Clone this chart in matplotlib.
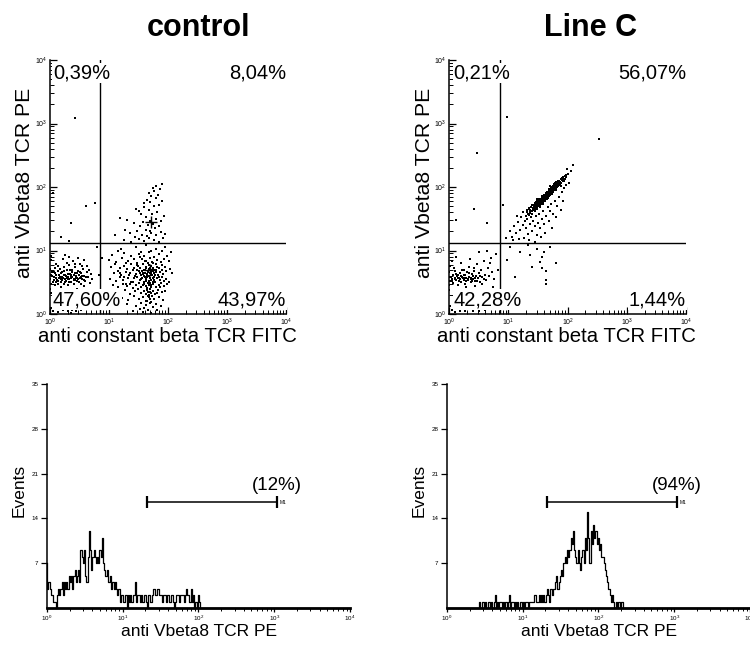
import numpy as np
import matplotlib
matplotlib.use('Agg')
import matplotlib.pyplot as plt
from matplotlib.ticker import LogLocator, NullFormatter, FixedLocator

plt.rcParams['font.family'] = ['Liberation Sans', 'DejaVu Sans']

W, H = 750, 645

titles = ['control', 'Line C']
ctrl_quads = ['0,39%', '8,04%', '47,60%', '43,97%']
linec_quads = ['0,21%', '56,07%', '42,28%', '1,44%']
gate_x = [7.1, 7.2]
gate_y = 13.2
m1_pcts = ['(12%)', '(94%)']
m1_range = [21, 1100]
m1_level = 16.5

# events as (log10 FITC, log10 PE)
ctrl_dn = [
    (0.15, 0.56), (0.19, 0.55), (0.22, 0.56), (0.26, 0.55), (0.29, 0.56), (0.33, 0.55), (0.36, 0.56),
    (0.40, 0.55), (0.44, 0.56), (0.47, 0.55), (0.51, 0.56),
    (0.02, 0.48), (0.01, 0.62), (0.00, 0.71), (0.01, 0.85), (0.00, 0.40), (0.02, 0.33), (0.00, 0.55), (0.01, 0.92),
    (0.05, 0.50), (0.07, 0.58), (0.06, 0.66), (0.09, 0.45), (0.10, 0.61), (0.08, 0.72), (0.12, 0.53), (0.13, 0.68),
    (0.14, 0.47), (0.11, 0.78), (0.16, 0.62), (0.18, 0.50), (0.17, 0.71), (0.20, 0.58), (0.21, 0.66), (0.23, 0.48),
    (0.24, 0.74), (0.25, 0.61), (0.27, 0.52), (0.28, 0.69), (0.30, 0.58), (0.31, 0.45), (0.32, 0.77), (0.34, 0.63),
    (0.35, 0.51), (0.37, 0.70), (0.38, 0.59), (0.39, 0.83), (0.41, 0.48), (0.42, 0.65), (0.43, 0.74), (0.45, 0.57),
    (0.46, 0.52), (0.48, 0.68), (0.49, 0.61), (0.50, 0.79), (0.52, 0.47), (0.53, 0.64), (0.55, 0.55), (0.56, 0.71),
    (0.58, 0.60), (0.60, 0.52), (0.62, 0.66), (0.65, 0.58), (0.68, 0.49), (0.47, 0.88), (0.33, 0.90), (0.22, 0.86),
    (0.57, 0.85), (0.26, 0.93), (0.04, 0.60), (0.15, 0.57), (0.44, 0.60), (0.36, 0.62), (0.27, 0.60), (0.10, 0.50),
    (0.40, 0.54), (0.52, 0.58), (0.19, 0.64), (0.31, 0.55), (0.63, 0.75), (0.70, 0.63), (0.08, 0.38), (0.18, 0.42),
    (0.45, 0.40), (0.58, 0.44), (0.83, 0.62), (0.88, 0.88),
    (0.06, 0.54), (0.11, 0.57), (0.14, 0.52), (0.17, 0.59), (0.20, 0.53), (0.23, 0.62), (0.25, 0.51), (0.28, 0.57),
    (0.30, 0.63), (0.32, 0.50), (0.35, 0.58), (0.38, 0.66), (0.41, 0.61), (0.43, 0.53), (0.46, 0.64), (0.49, 0.50),
    (0.51, 0.66), (0.54, 0.60), (0.57, 0.53), (0.61, 0.58), (0.03, 0.66), (0.09, 0.64), (0.24, 0.68), (0.34, 0.70),
    (0.13, 0.75), (0.29, 0.80), (0.42, 0.78), (0.54, 0.76), (0.66, 0.70), (0.72, 0.55),
    (0.05, 0.05), (0.10, 0.08), (0.14, 0.03), (0.18, 0.10), (0.22, 0.06), (0.26, 0.12), (0.30, 0.04), (0.33, 0.09),
    (0.37, 0.07), (0.41, 0.11), (0.44, 0.05), (0.48, 0.09), (0.02, 0.10), (0.08, 0.14), (0.28, 0.15), (0.35, 0.02),
    (0.52, 0.06),
]
ctrl_fitc = [
    (1.20, 1.02), (1.45, 1.05), (1.62, 1.08), (1.80, 1.03), (1.95, 1.06), (1.55, 0.98), (1.72, 1.00),
    (1.05, 0.93), (1.25, 0.96), (1.38, 0.91), (1.50, 0.95), (1.60, 0.92), (1.68, 0.97), (1.76, 0.90), (1.85, 0.94),
    (1.98, 0.92), (2.05, 0.97), (1.15, 0.99), (1.90, 0.99),
    (1.00, 0.85), (1.12, 0.82), (1.22, 0.88), (1.33, 0.84), (1.42, 0.87), (1.48, 0.81), (1.56, 0.86), (1.63, 0.83),
    (1.70, 0.88), (1.74, 0.81), (1.81, 0.85), (1.88, 0.82), (1.94, 0.87), (2.02, 0.84), (1.28, 0.80), (1.66, 0.80),
    (1.52, 0.89),
    (1.03, 0.74), (1.10, 0.78), (1.18, 0.72), (1.26, 0.76), (1.31, 0.71), (1.37, 0.79), (1.43, 0.73), (1.47, 0.77),
    (1.53, 0.72), (1.58, 0.78), (1.62, 0.74), (1.67, 0.71), (1.71, 0.76), (1.75, 0.73), (1.79, 0.79), (1.84, 0.72),
    (1.89, 0.77), (1.95, 0.74), (2.03, 0.71), (1.60, 0.70), (1.73, 0.70), (1.49, 0.75),
    (1.08, 0.64), (1.15, 0.68), (1.21, 0.62), (1.29, 0.66), (1.34, 0.61), (1.40, 0.69), (1.45, 0.63), (1.50, 0.67),
    (1.54, 0.61), (1.57, 0.65), (1.61, 0.69), (1.64, 0.62), (1.66, 0.66), (1.69, 0.64), (1.71, 0.68), (1.73, 0.61),
    (1.77, 0.65), (1.80, 0.69), (1.83, 0.62), (1.87, 0.66), (1.92, 0.63), (1.97, 0.68), (2.06, 0.64), (1.58, 0.63),
    (1.68, 0.60), (1.75, 0.67),
    (1.02, 0.55), (1.12, 0.52), (1.19, 0.58), (1.24, 0.53), (1.32, 0.57), (1.38, 0.51), (1.43, 0.56), (1.47, 0.59),
    (1.52, 0.53), (1.56, 0.57), (1.59, 0.51), (1.63, 0.55), (1.65, 0.59), (1.68, 0.52), (1.70, 0.57), (1.72, 0.54),
    (1.76, 0.58), (1.78, 0.51), (1.82, 0.56), (1.86, 0.53), (1.90, 0.58), (1.96, 0.55), (2.01, 0.51), (1.61, 0.58),
    (1.74, 0.50),
    (1.06, 0.45), (1.16, 0.42), (1.23, 0.48), (1.30, 0.44), (1.36, 0.47), (1.41, 0.41), (1.46, 0.46), (1.51, 0.49),
    (1.55, 0.43), (1.60, 0.47), (1.64, 0.41), (1.67, 0.45), (1.69, 0.49), (1.72, 0.43), (1.75, 0.47), (1.79, 0.42),
    (1.84, 0.46), (1.88, 0.49), (1.93, 0.44), (1.99, 0.47), (1.62, 0.44), (1.70, 0.40),
    (1.14, 0.35), (1.27, 0.38), (1.35, 0.32), (1.44, 0.36), (1.49, 0.39), (1.54, 0.33), (1.59, 0.37), (1.63, 0.31),
    (1.66, 0.35), (1.69, 0.39), (1.71, 0.33), (1.74, 0.36), (1.78, 0.31), (1.83, 0.38), (1.89, 0.34), (1.95, 0.37),
    (1.68, 0.30),
    (1.22, 0.25), (1.33, 0.22), (1.42, 0.28), (1.50, 0.24), (1.57, 0.27), (1.62, 0.21), (1.67, 0.26), (1.70, 0.23),
    (1.73, 0.29), (1.77, 0.24), (1.85, 0.27), (1.92, 0.22), (1.65, 0.20),
    (1.30, 0.15), (1.45, 0.12), (1.55, 0.18), (1.63, 0.14), (1.69, 0.17), (1.74, 0.11), (1.80, 0.16), (1.88, 0.13),
    (1.60, 0.10), (1.40, 0.05), (1.58, 0.03), (1.66, 0.07), (1.72, 0.02), (1.82, 0.06), (1.52, 0.08),
    (1.56, 0.68), (1.59, 0.60), (1.61, 0.64), (1.63, 0.72), (1.65, 0.63), (1.67, 0.69), (1.69, 0.57), (1.70, 0.73),
    (1.72, 0.65), (1.74, 0.56), (1.76, 0.70), (1.78, 0.61), (1.80, 0.66), (1.62, 0.52), (1.66, 0.49), (1.71, 0.46),
    (1.68, 0.77), (1.73, 0.82), (1.58, 0.45), (1.64, 0.38), (1.70, 0.35), (1.66, 0.28), (1.72, 0.19), (1.61, 0.84),
    (1.77, 0.53), (1.81, 0.74), (1.54, 0.55), (1.52, 0.64), (1.85, 0.59), (1.48, 0.70), (1.44, 0.60), (1.40, 0.50),
    (1.36, 0.65), (1.90, 0.70), (1.93, 0.52), (1.87, 0.42), (1.25, 0.58), (1.18, 0.65), (1.28, 0.47), (1.82, 0.33),
]
ctrl_dp = [
    (1.25, 1.16), (1.38, 1.14), (1.50, 1.18), (1.60, 1.15), (1.68, 1.20), (1.76, 1.17), (1.85, 1.14), (1.92, 1.19),
    (1.44, 1.22), (1.56, 1.25), (1.65, 1.23), (1.72, 1.27), (1.80, 1.24), (1.88, 1.29), (1.35, 1.28), (1.48, 1.31),
    (1.62, 1.33), (1.70, 1.30), (1.78, 1.35), (1.95, 1.26), (1.52, 1.38), (1.66, 1.40), (1.74, 1.42), (1.84, 1.39),
    (1.58, 1.45), (1.70, 1.47), (1.79, 1.50), (1.88, 1.46), (1.42, 1.43), (1.63, 1.52), (1.55, 1.57), (1.73, 1.58),
    (1.82, 1.61), (1.67, 1.63), (1.60, 1.68), (1.76, 1.70), (1.85, 1.72), (1.70, 1.76), (1.64, 1.80), (1.79, 1.82),
    (1.72, 1.86), (1.83, 1.88), (1.77, 1.93), (1.68, 1.91), (1.86, 1.97), (1.80, 2.02), (1.74, 1.98), (1.90, 2.04),
    (1.50, 1.62), (1.93, 1.55), (1.30, 1.48), (1.46, 1.66), (1.59, 1.75), (1.89, 1.78),
]
ctrl_stray = [
    (0.42, 3.08), (0.05, 1.90), (0.61, 1.70), (0.76, 1.75), (0.35, 1.43), (0.19, 1.21), (0.33, 1.15),
    (1.19, 1.51), (1.27, 1.32), (1.10, 1.24), (0.80, 1.05),
]
ctrl_centres = [(1.69, 0.69), (1.72, 1.45)]

linec_dn = [
    (0.00, 0.45), (0.01, 0.58), (0.00, 0.66), (0.02, 0.52), (0.01, 0.75), (0.00, 0.38),
    (0.04, 0.55), (0.06, 0.62), (0.07, 0.49), (0.09, 0.57), (0.10, 0.68), (0.12, 0.53), (0.13, 0.60), (0.15, 0.46),
    (0.16, 0.56), (0.18, 0.64), (0.19, 0.51), (0.21, 0.58), (0.22, 0.70), (0.24, 0.54), (0.25, 0.61), (0.27, 0.48),
    (0.28, 0.56), (0.30, 0.66), (0.31, 0.53), (0.33, 0.59), (0.34, 0.74), (0.36, 0.50), (0.37, 0.57), (0.39, 0.63),
    (0.40, 0.55), (0.42, 0.68), (0.43, 0.52), (0.45, 0.60), (0.47, 0.78), (0.48, 0.56), (0.50, 0.64), (0.52, 0.51),
    (0.54, 0.70), (0.56, 0.58), (0.58, 0.84), (0.60, 0.62), (0.62, 0.53), (0.65, 0.73), (0.67, 0.60), (0.70, 0.88),
    (0.73, 0.66), (0.76, 0.55), (0.79, 0.95), (0.82, 0.70), (0.20, 0.80), (0.35, 0.86), (0.12, 0.90), (0.50, 0.97),
    (0.28, 0.42), (0.44, 0.44), (0.08, 0.72), (0.26, 0.56), (0.32, 0.55), (0.18, 0.55), (0.38, 0.52), (0.14, 0.62),
    (0.55, 0.47), (0.64, 1.00), (0.74, 0.42), (0.05, 0.83),
    (0.05, 0.52), (0.10, 0.55), (0.14, 0.57), (0.17, 0.52), (0.20, 0.60), (0.23, 0.56), (0.26, 0.62), (0.29, 0.52),
    (0.33, 0.64), (0.36, 0.55), (0.40, 0.60), (0.44, 0.57), (0.47, 0.52), (0.52, 0.60), (0.58, 0.55), (0.11, 0.63),
    (0.24, 0.70), (0.41, 0.72), (0.68, 0.80), (0.03, 0.58),
    (0.04, 0.06), (0.09, 0.03), (0.13, 0.09), (0.18, 0.05), (0.22, 0.11), (0.27, 0.04), (0.31, 0.08), (0.36, 0.12),
    (0.40, 0.05), (0.45, 0.09), (0.50, 0.04), (0.56, 0.10), (0.61, 0.07), (0.02, 0.12),
]
linec_dp = [
    (1.30, 1.55), (1.31, 1.63), (1.33, 1.58), (1.34, 1.66), (1.35, 1.56), (1.36, 1.64), (1.37, 1.60), (1.38, 1.69),
    (1.39, 1.62), (1.40, 1.58), (1.41, 1.67), (1.42, 1.72), (1.43, 1.64), (1.44, 1.70), (1.45, 1.75), (1.45, 1.66),
    (1.46, 1.69), (1.47, 1.74), (1.48, 1.70), (1.48, 1.78), (1.49, 1.68), (1.50, 1.73), (1.50, 1.79), (1.51, 1.71),
    (1.52, 1.76), (1.52, 1.81), (1.53, 1.74), (1.54, 1.70), (1.54, 1.79), (1.55, 1.76), (1.56, 1.83), (1.56, 1.77),
    (1.57, 1.80), (1.58, 1.75), (1.58, 1.85), (1.59, 1.79), (1.60, 1.82), (1.60, 1.88), (1.61, 1.80), (1.62, 1.86),
    (1.63, 1.83), (1.63, 1.90), (1.64, 1.85), (1.65, 1.81), (1.65, 1.92), (1.66, 1.87), (1.67, 1.90), (1.68, 1.86),
    (1.68, 1.94), (1.69, 1.89), (1.70, 1.92), (1.70, 1.97), (1.71, 1.88), (1.72, 1.94), (1.72, 1.99), (1.73, 1.92),
    (1.74, 1.97), (1.75, 1.93), (1.75, 2.01), (1.76, 1.96), (1.77, 1.99), (1.77, 2.04), (1.78, 1.95), (1.79, 2.01),
    (1.79, 2.06), (1.80, 1.98), (1.81, 2.03), (1.82, 2.00), (1.82, 2.07), (1.83, 2.04), (1.84, 2.01), (1.84, 2.09),
    (1.85, 2.05), (1.86, 2.10), (1.86, 2.03), (1.87, 2.08), (1.88, 2.12), (1.89, 2.06), (1.90, 2.11), (1.91, 2.14),
    (1.92, 2.09), (1.93, 2.13), (1.95, 2.17), (1.96, 2.12), (1.98, 2.16), (2.00, 2.20), (1.62, 1.78), (1.57, 1.86),
    (1.46, 1.77), (1.40, 1.71), (1.74, 1.89), (1.80, 2.08), (1.67, 1.83), (1.53, 1.68), (1.35, 1.67), (1.44, 1.62),
    (1.88, 2.02), (1.71, 2.02), (1.59, 1.73), (1.49, 1.81),
    (1.42, 1.66), (1.44, 1.74), (1.46, 1.73), (1.47, 1.68), (1.49, 1.76), (1.50, 1.70), (1.51, 1.77), (1.53, 1.79),
    (1.55, 1.73), (1.55, 1.81), (1.57, 1.76), (1.59, 1.83), (1.61, 1.84), (1.64, 1.89), (1.66, 1.84), (1.69, 1.93),
    (1.71, 1.91), (1.73, 1.96), (1.76, 1.99), (1.78, 2.02), (1.79, 1.97), (1.81, 2.05), (1.83, 2.01), (1.85, 2.08),
    (1.87, 2.05), (1.76, 1.92), (1.73, 2.00), (1.80, 1.95), (1.83, 2.08), (1.78, 2.07), (1.68, 1.97), (1.62, 1.81),
    (1.58, 1.78), (1.52, 1.73), (1.48, 1.66), (1.38, 1.62), (1.36, 1.59), (1.32, 1.61), (1.89, 2.13), (1.92, 2.15),
    (1.94, 2.10), (1.97, 2.19), (1.75, 1.96), (1.70, 1.89), (1.65, 1.87), (1.61, 1.87), (1.56, 1.79), (1.51, 1.75),
    (1.47, 1.71), (1.43, 1.69),
    (1.02, 1.30), (1.06, 1.22), (1.10, 1.38), (1.13, 1.27), (1.16, 1.45), (1.19, 1.33), (1.21, 1.52), (1.24, 1.40),
    (1.26, 1.20), (1.28, 1.47), (1.30, 1.35), (1.32, 1.50), (1.33, 1.26), (1.36, 1.42), (1.38, 1.53), (1.40, 1.31),
    (1.42, 1.46), (1.44, 1.38), (1.46, 1.55), (1.48, 1.24), (1.50, 1.44), (1.52, 1.58), (1.54, 1.35), (1.56, 1.50),
    (1.58, 1.62), (1.60, 1.42), (1.62, 1.28), (1.64, 1.55), (1.66, 1.68), (1.68, 1.47), (1.70, 1.62), (1.72, 1.74),
    (1.74, 1.36), (1.76, 1.58), (1.78, 1.78), (1.80, 1.52), (1.82, 1.70), (1.85, 1.85), (1.88, 1.64), (1.91, 1.92),
    (1.94, 1.98), (1.97, 2.03), (0.95, 1.19), (1.08, 1.16), (1.18, 1.18), (1.34, 1.17), (1.45, 1.14), (1.25, 1.60),
    (1.15, 1.55), (1.55, 1.21), (1.92, 1.78), (2.02, 2.07), (2.05, 2.25), (1.99, 2.28),
]
linec_fitc = [
    (1.33, 1.08), (1.36, 0.93), (1.39, 0.74), (1.53, 0.82), (1.56, 0.72), (1.64, 0.67), (1.64, 0.48), (1.81, 0.80),
    (1.11, 0.59), (1.03, 1.06), (1.56, 0.90), (1.64, 0.53), (1.48, 1.02), (1.20, 0.98), (1.70, 1.05), (1.60, 0.98),
    (0.98, 0.85),
]
linec_stray = [
    (2.09, 2.34), (2.53, 2.76), (0.98, 3.11), (0.46, 2.53), (0.41, 1.65), (0.11, 1.48), (0.63, 1.44), (0.90, 1.71),
]

# PE histograms, counts per channel (64 channels per decade)
ctrl_counts = [
    7, 3, 4, 3, 2, 2, 1, 1, 0, 2, 3, 2, 3, 4, 2, 4, 3,
    4, 3, 5, 4, 5, 3, 5, 6, 4, 5, 6, 4,
    9, 8, 7, 9, 5, 4, 8, 12, 9,
    6, 8, 9, 8, 7, 8, 7, 9, 8, 11,
    7, 6, 5, 6, 4, 4, 5, 3, 4, 3, 4, 3, 2, 3,
    1, 2, 2, 1, 1, 2, 0, 2, 1, 2, 1, 2, 2, 4,
    1, 2, 2, 1, 2, 1, 1, 2, 1, 0, 2, 2, 1, 2, 3, 3, 2, 2, 3, 2,
    2, 2, 1, 2, 2, 1, 2, 2, 1, 2, 2, 1, 0,
    1, 2, 2, 1, 2, 2, 2, 1, 2, 3, 2, 2, 1, 3, 1, 2, 0,
    1, 0, 2, 1, 0, 0,
]
linec_counts = [0] * 28 + [
    1, 0, 1, 1, 0, 1, 0, 1, 1, 0, 1, 0, 1, 2, 0, 1, 0, 1, 1, 0,
    1, 0, 1, 0, 1, 2, 0, 1, 1, 0, 1, 0, 1, 0, 1, 1, 0, 1, 0, 1, 1, 0,
    1, 1, 1, 1, 2, 2, 1, 1, 2, 1, 2, 1, 2,
    1, 2, 3, 2, 1, 3, 2, 3,
    3, 4, 5, 3, 4, 5,
    6, 5, 7, 8, 7, 9, 8,
    9, 11, 10, 12,
    9, 8, 7, 9, 7, 6,
    8, 9, 7, 11, 9,
    15, 11, 7,
    12, 10, 13, 11, 12,
    10, 11, 9, 10, 8, 8,
    7, 6, 5, 4, 3,
    2, 1, 2, 1,
    0, 1, 0, 1, 1, 0, 1, 0, 0,
]


def px_box(x0, y0, x1, y1):
    return [x0 / W, 1 - y1 / H, (x1 - x0) / W, (y1 - y0) / H]


def fig_text(fig, x, y, s, **kw):
    fig.text(x / W, 1 - y / H, s, **kw)


def log_x(ax):
    ax.set_xscale('log')
    ax.xaxis.set_major_locator(LogLocator(base=10, numticks=10))
    ax.xaxis.set_minor_locator(LogLocator(base=10, subs=range(2, 10), numticks=50))
    ax.xaxis.set_minor_formatter(NullFormatter())
    ax.set_xlim(1, 1e4)
    for side in ['top', 'right']:
        ax.spines[side].set_visible(False)
    ax.spines['left'].set_linewidth(1.1)
    ax.spines['bottom'].set_linewidth(1.1)


def dot_plot(ax, groups, centres, gx, quads, lx):
    for pts in groups:
        arr = np.array(pts)
        ax.scatter(10 ** arr[:, 0], 10 ** arr[:, 1], s=2.0, marker='s', c='k', linewidths=0, zorder=2)
    if centres:
        arr = np.array(centres)
        ax.plot(10 ** arr[:, 0], 10 ** arr[:, 1], '+', color='k', ms=8, mew=1, zorder=2)
    ax.axvline(gx, color='k', lw=1, zorder=1)
    ax.axhline(gate_y, color='k', lw=1, zorder=1)
    log_x(ax)
    ax.set_yscale('log')
    ax.yaxis.set_major_locator(LogLocator(base=10, numticks=10))
    ax.yaxis.set_minor_locator(LogLocator(base=10, subs=range(2, 10), numticks=50))
    ax.yaxis.set_minor_formatter(NullFormatter())
    ax.set_ylim(1, 1e4)
    ax.tick_params(which='major', direction='in', length=5, width=0.9, labelsize=5, pad=2)
    ax.tick_params(which='minor', direction='in', length=3, width=0.7)
    box = dict(facecolor='white', edgecolor='none', pad=0.6)
    kw = dict(fontsize=14.5, va='baseline', bbox=box, zorder=4)
    ax.text(10 ** lx, 10 ** 3.71, quads[0], ha='left', **kw)
    ax.text(1e4, 10 ** 3.71, quads[1], ha='right', **kw)
    ax.text(10 ** lx, 10 ** 0.14, quads[2], ha='left', **kw)
    ax.text(1e4, 10 ** 0.14, quads[3], ha='right', **kw)


def pe_hist(ax, counts, pct):
    chans = 10 ** (np.arange(256) / 64)
    full = counts + [0] * (256 - len(counts))
    ax.step(chans, full, where='mid', color='k', lw=0.9, clip_on=False)
    log_x(ax)
    ax.spines['bottom'].set_linewidth(2)
    ax.set_ylim(0, 35)
    ax.yaxis.set_major_locator(FixedLocator([7, 14, 21, 28, 35]))
    ax.tick_params(axis='x', which='major', direction='out', length=3, width=0.9, labelsize=4.5, pad=1)
    ax.tick_params(axis='x', which='minor', direction='out', length=2, width=0.7)
    ax.tick_params(axis='y', which='major', direction='out', length=4, width=0.9, labelsize=4.5, pad=2)
    ax.plot(m1_range, [m1_level, m1_level], color='k', lw=1.1, marker='|', ms=8, mew=1.6)
    ax.text(10 ** 3.37, 19.2, pct, ha='right', va='center', fontsize=13.5)
    ax.text(1180, 16.5, 'M1', fontsize=3.5, va='center', ha='left')


fig = plt.figure(figsize=(W / 100, H / 100), dpi=100)

ax1 = fig.add_axes(px_box(50, 60, 286, 314))
dot_plot(ax1, [ctrl_dn, ctrl_fitc, ctrl_dp, ctrl_stray], ctrl_centres, gate_x[0], ctrl_quads, 0.05)
ax2 = fig.add_axes(px_box(449.3, 60, 686, 314))
dot_plot(ax2, [linec_dn, linec_dp, linec_fitc, linec_stray], [], gate_x[1], linec_quads, 0.07)

ax3 = fig.add_axes(px_box(46.7, 384, 350, 608))
pe_hist(ax3, ctrl_counts, m1_pcts[0])
ax4 = fig.add_axes(px_box(446.7, 384, 750, 608))
pe_hist(ax4, linec_counts, m1_pcts[1])

fig_text(fig, 199, 28, titles[0], fontsize=22, fontweight='bold', ha='center', va='center')
fig_text(fig, 591, 28, titles[1], fontsize=22, fontweight='bold', ha='center', va='center')

for dx in [0, 399.3]:
    fig_text(fig, 167 + dx, 337, 'anti constant beta TCR FITC', fontsize=14.7, ha='center', va='center')
    fig_text(fig, 25 + dx, 183, 'anti Vbeta8 TCR PE', fontsize=15.2, rotation=90, ha='center', va='center')
for dx in [0, 400]:
    fig_text(fig, 199 + dx, 632, 'anti Vbeta8 TCR PE', fontsize=12.5, ha='center', va='center')
    fig_text(fig, 19 + dx, 490, 'Events', fontsize=12.5, rotation=90, ha='center', va='center')

fig.savefig('out.png', dpi=100)
